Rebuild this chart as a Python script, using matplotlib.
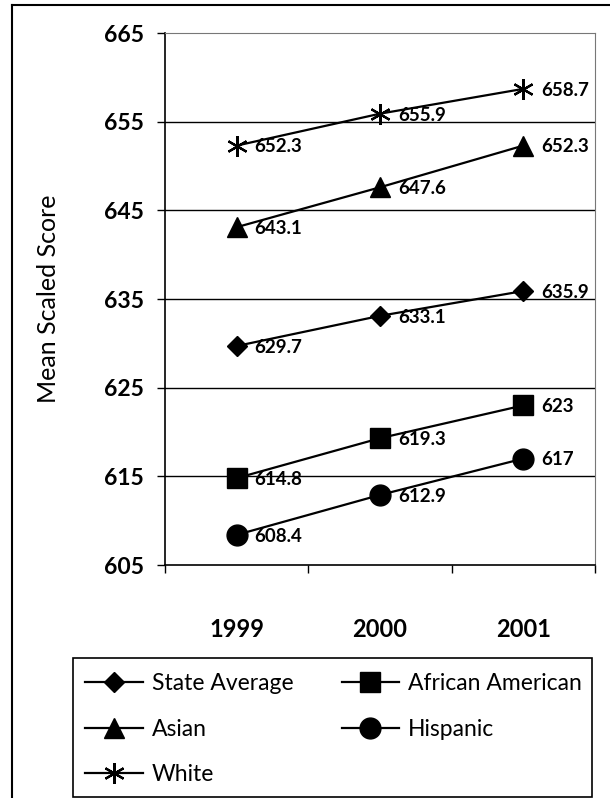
import matplotlib
matplotlib.use("Agg")
import matplotlib.pyplot as plt
from matplotlib.patches import Rectangle
from matplotlib.lines import Line2D

plt.rcParams['font.family'] = ['Lato', 'DejaVu Sans']

# data
years = ["1999", "2000", "2001"]
state_avg = [629.7, 633.1, 635.9]
african_american = [614.8, 619.3, 623]
asian = [643.1, 647.6, 652.3]
hispanic = [608.4, 612.9, 617]
white = [652.3, 655.9, 658.7]

state_lbl = ["629.7", "633.1", "635.9"]
aa_lbl = ["614.8", "619.3", "623"]
asian_lbl = ["643.1", "647.6", "652.3"]
hisp_lbl = ["608.4", "612.9", "617"]
white_lbl = ["652.3", "655.9", "658.7"]

y_ticks = [605, 615, 625, 635, 645, 655, 665]

fig = plt.figure(figsize=(6.1, 7.98), dpi=100)
ax = fig.add_axes([165/610, 1-565/798, 430/610, 532/798])

x = [0.5, 1.5, 2.5]

series = [
    ("State Average", state_avg, state_lbl, dict(marker='D', markersize=10.5)),
    ("Asian", asian, asian_lbl, dict(marker='^', markersize=15)),
    ("White", white, white_lbl, dict(marker=(6, 2, 0), markersize=15, markeredgewidth=1.6)),
    ("African American", african_american, aa_lbl, dict(marker='s', markersize=14)),
    ("Hispanic", hispanic, hisp_lbl, dict(marker='o', markersize=15)),
]

handles = []
for name, vals, lbls, style in series:
    h, = ax.plot(x, vals, color='black', linewidth=1.6, markerfacecolor='black',
                 markeredgecolor='black', label=name, zorder=3, **style)
    handles.append(h)
    for xi, v, t in zip(x, vals, lbls):
        ax.annotate(t, (xi, v), xytext=(13, -1), textcoords='offset points',
                    va='center', ha='left', fontsize=13.5, fontweight='bold', zorder=4)

ax.set_xlim(0, 3)
ax.set_ylim(605, 665)
ax.set_yticks(y_ticks)
ax.set_yticklabels([str(t) for t in y_ticks], fontsize=16.5, fontweight='bold')
ax.tick_params(axis='y', direction='out', length=6, width=1, pad=9)

ax.set_xticks([0, 1, 2, 3])
ax.set_xticklabels([])
ax.tick_params(axis='x', which='major', direction='out', length=6, width=1)
ax.set_xticks(x, minor=True)
ax.set_xticklabels(years, minor=True, fontsize=17, fontweight='bold')
ax.tick_params(axis='x', which='minor', length=0, pad=38)

for t in y_ticks[1:-1]:
    ax.axhline(t, color='black', linewidth=1, zorder=1)

ax.spines['left'].set_linewidth(1.2)
ax.spines['bottom'].set_linewidth(1.2)
ax.spines['top'].set_color('#777777')
ax.spines['top'].set_linewidth(0.8)
ax.spines['right'].set_color('#777777')
ax.spines['right'].set_linewidth(0.8)

ax.set_ylabel("Mean Scaled Score", fontsize=18)
ax.yaxis.set_label_coords((60-165)/430, 0.5)

# legend
fig.legend(handles=handles, loc='upper left', ncol=2, frameon=False,
           bbox_to_anchor=(74/610, 1-662/798), borderpad=0,
           fontsize=16.5, handlelength=2.5, handletextpad=0.4,
           columnspacing=2.1, labelspacing=1.05)
fig.add_artist(Rectangle((73/610, 1-797/798), (592-73)/610, (797-658)/798,
                         transform=fig.transFigure, fill=False,
                         edgecolor='black', linewidth=1.2))

# outer frame (left and top edges visible)
fig.add_artist(Line2D([12/610, 12/610], [0, 1-5/798], transform=fig.transFigure,
                      color='black', linewidth=1.5))
fig.add_artist(Line2D([12/610, 1], [1-5/798, 1-5/798], transform=fig.transFigure,
                      color='black', linewidth=1.5))

fig.savefig("out.png", dpi=100)
